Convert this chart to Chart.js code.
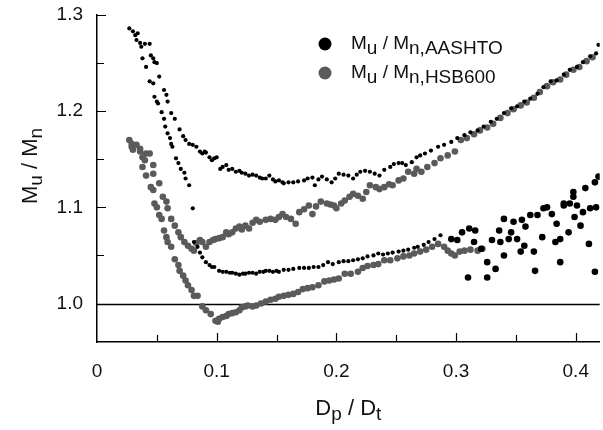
<!DOCTYPE html>
<html>
<head>
<meta charset="utf-8">
<script src="https://cdn.jsdelivr.net/npm/chart.js@4.4.0/dist/chart.umd.min.js"></script>
<style>
  html, body { margin: 0; padding: 0; background: #fff; }
</style>
</head>
<body>
<canvas id="chart" width="603" height="430"></canvas>
<script>
// axis ticks
const xTicks = [0, 0.1, 0.2, 0.3, 0.4];
const xMinor = [0.05, 0.15, 0.25, 0.35];
const yTicks = [1.0, 1.1, 1.2, 1.3];
const yMinor = [1.05, 1.15, 1.25];
const refLine = 1.0;

// Mu/Mn,AASHTO - upper branch
const aashtoUpX = [0.034,0.040,0.044,0.045,0.047,0.048,0.050,0.052,0.056,0.058,0.059,0.062,0.065,0.069,0.072,0.074,0.077,0.080,0.083,0.086,0.088,0.090,0.091,0.094,0.096,0.098,0.100,0.103,0.105,0.108,0.110,0.113,0.116,0.119,0.121,0.124,0.127,0.130,0.133,0.136,0.138,0.141,0.144,0.147,0.149,0.152,0.155,0.156,0.160,0.164,0.168,0.173,0.176,0.180,0.182,0.185,0.188,0.192,0.196,0.199,0.202,0.206,0.210,0.214,0.217,0.220,0.224,0.228,0.232,0.236,0.240,0.245,0.248,0.252,0.255,0.258,0.263,0.267,0.270,0.274,0.279,0.285,0.290,0.296,0.301,0.307,0.312,0.318,0.323,0.329,0.334,0.340,0.346,0.351,0.357,0.362,0.368,0.373,0.379,0.384,0.390,0.395,0.401,0.406,0.412,0.417,0.419];
const aashtoUpY = [1.281,1.270,1.270,1.258,1.255,1.251,1.250,1.236,1.222,1.217,1.210,1.198,1.192,1.181,1.174,1.170,1.166,1.165,1.163,1.158,1.156,1.158,1.157,1.152,1.149,1.151,1.152,1.140,1.142,1.144,1.139,1.140,1.137,1.138,1.136,1.135,1.133,1.134,1.133,1.131,1.130,1.130,1.133,1.129,1.127,1.128,1.126,1.125,1.126,1.126,1.127,1.128,1.130,1.131,1.123,1.129,1.132,1.129,1.126,1.130,1.135,1.134,1.133,1.130,1.134,1.137,1.138,1.137,1.135,1.133,1.139,1.142,1.145,1.146,1.146,1.144,1.147,1.152,1.154,1.156,1.159,1.163,1.165,1.168,1.172,1.175,1.178,1.180,1.184,1.189,1.192,1.198,1.203,1.205,1.210,1.213,1.218,1.225,1.231,1.232,1.238,1.243,1.246,1.251,1.257,1.260,1.269];

// Mu/Mn,AASHTO - lower branch
const aashtoLowX = [0.027,0.030,0.032,0.033,0.036,0.037,0.038,0.041,0.044,0.047,0.048,0.050,0.051,0.054,0.056,0.057,0.059,0.061,0.062,0.063,0.066,0.068,0.070,0.073,0.074,0.077,0.080,0.081,0.084,0.086,0.088,0.091,0.094,0.096,0.098,0.102,0.105,0.108,0.111,0.113,0.116,0.119,0.122,0.124,0.127,0.130,0.133,0.136,0.139,0.141,0.144,0.147,0.150,0.152,0.156,0.160,0.164,0.169,0.173,0.177,0.181,0.185,0.189,0.193,0.197,0.202,0.206,0.210,0.214,0.218,0.222,0.226,0.231,0.235,0.239,0.243,0.247,0.252,0.256,0.260,0.265,0.268,0.273,0.277,0.282,0.287];
const aashtoLowY = [1.286,1.283,1.279,1.274,1.271,1.267,1.255,1.246,1.231,1.229,1.215,1.210,1.208,1.199,1.192,1.184,1.177,1.172,1.166,1.163,1.151,1.146,1.140,1.136,1.130,1.123,1.099,1.064,1.059,1.053,1.048,1.043,1.040,1.038,1.038,1.034,1.033,1.033,1.032,1.032,1.031,1.030,1.031,1.031,1.032,1.032,1.031,1.033,1.033,1.034,1.034,1.033,1.034,1.033,1.035,1.035,1.036,1.037,1.037,1.037,1.038,1.038,1.040,1.043,1.041,1.043,1.044,1.044,1.045,1.046,1.047,1.049,1.050,1.052,1.051,1.052,1.053,1.054,1.055,1.056,1.058,1.059,1.061,1.064,1.067,1.071];

// Mu/Mn,AASHTO - scattered points beyond 0.29
const aashtoScatX = [0.296,0.301,0.305,0.311,0.316,0.310,0.315,0.321,0.326,0.326,0.330,0.333,0.336,0.337,0.340,0.340,0.344,0.346,0.348,0.351,0.354,0.355,0.357,0.358,0.362,0.365,0.366,0.368,0.372,0.373,0.376,0.380,0.383,0.384,0.387,0.387,0.390,0.390,0.394,0.395,0.398,0.398,0.399,0.401,0.404,0.406,0.408,0.411,0.412,0.416,0.416,0.417,0.419];
const aashtoScatY = [1.067,1.066,1.074,1.078,1.076,1.027,1.064,1.057,1.043,1.027,1.066,1.036,1.076,1.064,1.088,1.050,1.067,1.074,1.085,1.067,1.054,1.087,1.060,1.080,1.092,1.054,1.034,1.092,1.069,1.099,1.100,1.093,1.064,1.083,1.067,1.043,1.102,1.104,1.074,1.104,1.111,1.116,1.090,1.102,1.081,1.095,1.120,1.062,1.099,1.033,1.126,1.100,1.132];

// Mu/Mn,HSB600 - upper branch
const hsbUpX = [0.027,0.029,0.033,0.036,0.041,0.044,0.047,0.047,0.052,0.055,0.058,0.059,0.062,0.065,0.068,0.070,0.073,0.076,0.079,0.081,0.083,0.086,0.088,0.091,0.094,0.097,0.099,0.102,0.105,0.108,0.110,0.113,0.116,0.119,0.121,0.124,0.127,0.130,0.133,0.136,0.141,0.145,0.149,0.152,0.155,0.158,0.162,0.166,0.169,0.173,0.177,0.180,0.183,0.187,0.192,0.195,0.198,0.200,0.204,0.207,0.211,0.214,0.218,0.222,0.225,0.228,0.233,0.236,0.240,0.244,0.247,0.252,0.256,0.260,0.265,0.267,0.271,0.276,0.282,0.287,0.293,0.299,0.304,0.309,0.315,0.320,0.326,0.331,0.337,0.343,0.348,0.354,0.359,0.365,0.370,0.376,0.381,0.387,0.392,0.398,0.403,0.409,0.414];
const hsbUpY = [1.170,1.166,1.165,1.158,1.156,1.156,1.144,1.135,1.125,1.111,1.106,1.099,1.088,1.081,1.074,1.069,1.064,1.060,1.057,1.055,1.063,1.066,1.064,1.059,1.064,1.066,1.067,1.068,1.069,1.074,1.072,1.074,1.078,1.080,1.077,1.081,1.078,1.084,1.087,1.085,1.087,1.088,1.087,1.090,1.093,1.090,1.088,1.083,1.095,1.098,1.102,1.093,1.101,1.106,1.104,1.103,1.102,1.099,1.104,1.107,1.111,1.114,1.112,1.109,1.116,1.123,1.121,1.119,1.121,1.124,1.123,1.128,1.130,1.137,1.135,1.140,1.137,1.142,1.146,1.151,1.154,1.158,1.170,1.172,1.176,1.180,1.183,1.187,1.193,1.198,1.202,1.206,1.209,1.214,1.220,1.226,1.230,1.233,1.238,1.243,1.246,1.252,1.256];

// Mu/Mn,HSB600 - lower branch
const hsbLowX = [0.029,0.030,0.036,0.038,0.040,0.038,0.041,0.045,0.047,0.048,0.050,0.052,0.054,0.056,0.058,0.059,0.062,0.065,0.068,0.069,0.072,0.074,0.076,0.079,0.081,0.084,0.088,0.091,0.095,0.099,0.101,0.102,0.105,0.108,0.110,0.113,0.116,0.119,0.121,0.124,0.126,0.130,0.133,0.137,0.141,0.145,0.149,0.152,0.156,0.160,0.164,0.168,0.172,0.176,0.180,0.185,0.190,0.194,0.198,0.202,0.207,0.212,0.218,0.222,0.226,0.231,0.235,0.240,0.245,0.251,0.256,0.261,0.265,0.270,0.275,0.280,0.285,0.290,0.293,0.296,0.299,0.303,0.307,0.312,0.318,0.322];
const hsbLowY = [1.163,1.160,1.161,1.152,1.149,1.142,1.133,1.121,1.118,1.104,1.100,1.092,1.088,1.076,1.069,1.064,1.059,1.046,1.040,1.034,1.029,1.024,1.019,1.014,1.008,1.008,0.997,0.993,0.989,0.982,0.981,0.984,0.986,0.987,0.989,0.990,0.991,0.993,0.996,0.997,0.998,0.997,0.998,1.000,1.002,1.004,1.005,1.007,1.008,1.009,1.010,1.012,1.015,1.016,1.017,1.019,1.023,1.024,1.025,1.026,1.031,1.031,1.033,1.037,1.039,1.040,1.041,1.045,1.045,1.047,1.049,1.050,1.052,1.054,1.056,1.059,1.062,1.059,1.055,1.052,1.050,1.054,1.055,1.056,1.055,1.057];

const BLACK = '#000000';
const GRAY = '#5a5a5a';
const FONT = 'Liberation Sans, Arial, sans-serif';

function pts(xs, ys) {
    return xs.map((x, i) => ({ x: x, y: ys[i] }));
}

// text with subscripts: parts = [[text, isSub], ...]
function partsWidth(ctx, parts, big, small) {
    let w = 0;
    parts.forEach(p => {
        ctx.font = (p[1] ? small : big) + 'px ' + FONT;
        w += ctx.measureText(p[0]).width;
    });
    return w;
}
function drawParts(ctx, parts, x, y, big, small, drop) {
    parts.forEach(p => {
        ctx.font = (p[1] ? small : big) + 'px ' + FONT;
        ctx.fillText(p[0], x, p[1] ? y + drop : y);
        x += ctx.measureText(p[0]).width;
    });
}

const decor = {
    id: 'decor',
    beforeDatasetsDraw(chart) {
        const { ctx, chartArea: a, scales: { x, y } } = chart;
        ctx.save();
        ctx.strokeStyle = '#000';
        ctx.lineWidth = 1.3;
        const yr = Math.round(y.getPixelForValue(refLine)) + 0.5;
        ctx.beginPath();
        ctx.moveTo(a.left, yr);
        ctx.lineTo(a.right, yr);
        ctx.stroke();
        // inward ticks
        ctx.lineWidth = 1.2;
        ctx.beginPath();
        xTicks.concat(xMinor).forEach(v => {
            if (v === 0) return;
            const px = Math.round(x.getPixelForValue(v)) + 0.5;
            const len = xMinor.includes(v) ? 7 : 9;
            ctx.moveTo(px, a.bottom);
            ctx.lineTo(px, a.bottom - len);
        });
        yTicks.concat(yMinor).forEach(v => {
            const py = Math.round(y.getPixelForValue(v)) + 0.5;
            const len = yMinor.includes(v) ? 7 : 9;
            ctx.moveTo(a.left, py);
            ctx.lineTo(a.left + len, py);
        });
        ctx.stroke();
        ctx.restore();
    },
    afterDraw(chart) {
        const { ctx, chartArea: a } = chart;
        ctx.save();
        ctx.fillStyle = '#111';
        ctx.textBaseline = 'alphabetic';
        // x title
        const xt = [['D', false], ['p', true], [' / D', false], ['t', true]];
        const xw = partsWidth(ctx, xt, 22, 19);
        drawParts(ctx, xt, (a.left + a.right) / 2 - xw / 2, 415, 22, 19, 5);
        // y title
        const yt = [['M', false], ['u', true], [' / M', false], ['n', true]];
        const yw = partsWidth(ctx, yt, 22, 19);
        ctx.translate(37, 166);
        ctx.rotate(-Math.PI / 2);
        drawParts(ctx, yt, -yw / 2, 0, 22, 19, 5);
        ctx.restore();

        // legend
        ctx.save();
        const items = [
            { color: BLACK, parts: [['M', false], ['u', true], [' / M', false], ['n,AASHTO', true]], y: 44 },
            { color: GRAY, parts: [['M', false], ['u', true], [' / M', false], ['n,HSB600', true]], y: 73 }
        ];
        items.forEach(it => {
            ctx.fillStyle = it.color;
            ctx.beginPath();
            ctx.arc(325, it.y, 6.5, 0, Math.PI * 2);
            ctx.fill();
            ctx.fillStyle = '#111';
            drawParts(ctx, it.parts, 351, it.y + 5, 19, 19, 5);
        });
        ctx.restore();
    }
};

function scatterSet(label, xs, ys, color, r) {
    return {
        label: label,
        data: pts(xs, ys),
        backgroundColor: color,
        borderWidth: 0,
        pointRadius: r,
        pointHoverRadius: r
    };
}

new Chart(document.getElementById('chart'), {
    type: 'scatter',
    data: {
        datasets: [
            scatterSet('AASHTO upper', aashtoUpX, aashtoUpY, BLACK, 2.1),
            scatterSet('AASHTO lower', aashtoLowX, aashtoLowY, BLACK, 2.1),
            scatterSet('AASHTO scatter', aashtoScatX, aashtoScatY, BLACK, 3.3),
            scatterSet('HSB600 upper', hsbUpX, hsbUpY, GRAY, 3.3),
            scatterSet('HSB600 lower', hsbLowX, hsbLowY, GRAY, 3.3)
        ]
    },
    options: {
        responsive: false,
        animation: false,
        events: [],
        layout: { padding: { top: 15, right: 0, left: 0, bottom: 0 } },
        plugins: {
            legend: { display: false },
            tooltip: { enabled: false }
        },
        scales: {
            x: {
                type: 'linear',
                min: 0,
                max: 0.42,
                afterBuildTicks: s => { s.ticks = xTicks.map(v => ({ value: v })); },
                afterFit: s => { s.height = 88; s.paddingLeft = 0; s.paddingRight = 0; },
                grid: { display: false, drawTicks: false },
                border: { display: true, color: '#000', width: 1.5 },
                ticks: {
                    padding: 18,
                    color: '#111',
                    maxRotation: 0,
                    font: { family: FONT, size: 19 },
                    callback: v => v === 0 ? '0' : v.toFixed(1)
                }
            },
            y: {
                type: 'linear',
                min: 0.96,
                max: 1.3,
                afterBuildTicks: s => { s.ticks = yTicks.map(v => ({ value: v })); },
                afterFit: s => { s.width = 97; s.paddingTop = 0; s.paddingBottom = 0; },
                grid: { display: false, drawTicks: false },
                border: { display: true, color: '#000', width: 1.5 },
                ticks: {
                    padding: 14,
                    color: '#111',
                    font: { family: FONT, size: 19 },
                    callback: v => v.toFixed(1)
                }
            }
        }
    },
    plugins: [decor]
});
</script>
</body>
</html>
